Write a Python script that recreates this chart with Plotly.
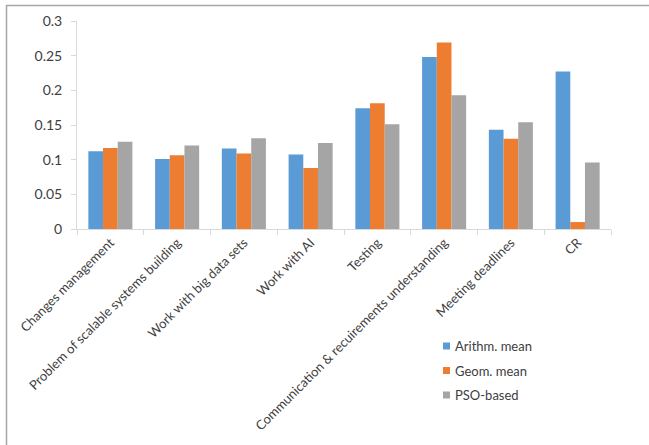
import plotly.graph_objects as go

categories = ["Changes management", "Problem of scalable systems building",
              "Work with big data sets", "Work with AI", "Testing",
              "Communication & recuirements understanding", "Meeting deadlines", "CR"]
arith = [0.112, 0.101, 0.116, 0.1075, 0.174, 0.248, 0.143, 0.227]
geom = [0.117, 0.1065, 0.109, 0.088, 0.1815, 0.269, 0.130, 0.010]
pso = [0.126, 0.1205, 0.131, 0.124, 0.151, 0.193, 0.154, 0.096]
series_names = ["Arithm. mean", "Geom. mean", "PSO-based"]
colors = ["#5B9BD5", "#ED7D31", "#A5A5A5"]

W, H = 649, 445
ml, mr, mt, mb = 77, 38, 21, 216
pw, ph = W - ml - mr, H - mt - mb

def px_to_paper_x(px):
    return (px - ml) / pw

def px_to_paper_y(py):
    return (H - mb - py) / ph

fig = go.Figure()
for name, vals, c in zip(series_names, [arith, geom, pso], colors):
    fig.add_trace(go.Bar(x=categories, y=vals, name=name, marker_color=c,
                         marker_line_width=0, showlegend=False))

# custom legend (small square swatches + labels)
shapes = []
annotations = []
legend_rows = [346, 370.5, 395]
for name, c, ry in zip(series_names, colors, legend_rows):
    shapes.append(dict(type="rect", xref="paper", yref="paper",
                       x0=px_to_paper_x(443), x1=px_to_paper_x(450),
                       y0=px_to_paper_y(ry + 3.5), y1=px_to_paper_y(ry - 3.5),
                       fillcolor=c, line=dict(width=0)))
    annotations.append(dict(text=name, xref="paper", yref="paper",
                            x=px_to_paper_x(453), y=px_to_paper_y(ry),
                            xanchor="left", yanchor="middle", showarrow=False,
                            font=dict(size=13, color="#404040")))

shapes += [
    dict(type="line", xref="paper", yref="paper",
         x0=px_to_paper_x(6), x1=px_to_paper_x(649), y0=px_to_paper_y(5.5), y1=px_to_paper_y(5.5),
         line=dict(color="#A6A6A6", width=1.5)),
    dict(type="line", xref="paper", yref="paper",
         x0=px_to_paper_x(6.5), x1=px_to_paper_x(6.5), y0=px_to_paper_y(5), y1=px_to_paper_y(446),
         line=dict(color="#A6A6A6", width=1.5)),
]

fig.update_layout(
    width=W, height=H,
    margin=dict(l=ml, r=mr, t=mt, b=mb, pad=0),
    paper_bgcolor="white", plot_bgcolor="white",
    barmode="group", bargap=0.34, bargroupgap=0,
    font=dict(family="Lato, Open Sans, sans-serif", size=13, color="#404040"),
    showlegend=False,
    xaxis=dict(showline=True, linecolor="#D9D9D9", linewidth=1, ticks="outside",
               tickson="boundaries", ticklen=5, tickcolor="#D9D9D9", tickangle=-45,
               tickfont=dict(size=13, color="#404040"), showgrid=False),
    yaxis=dict(range=[0, 0.3], tickvals=[0, 0.05, 0.1, 0.15, 0.2, 0.25, 0.3],
               ticktext=["0", "0.05", "0.1", "0.15", "0.2", "0.25", "0.3"],
               showline=True, linecolor="#D9D9D9", linewidth=1, ticks="outside",
               ticklen=5, tickcolor="#D9D9D9", showgrid=False, zeroline=False,
               ticklabelstandoff=6,
               tickfont=dict(size=14, color="#404040")),
    shapes=shapes,
    annotations=annotations,
)

fig.write_html("out.html")
